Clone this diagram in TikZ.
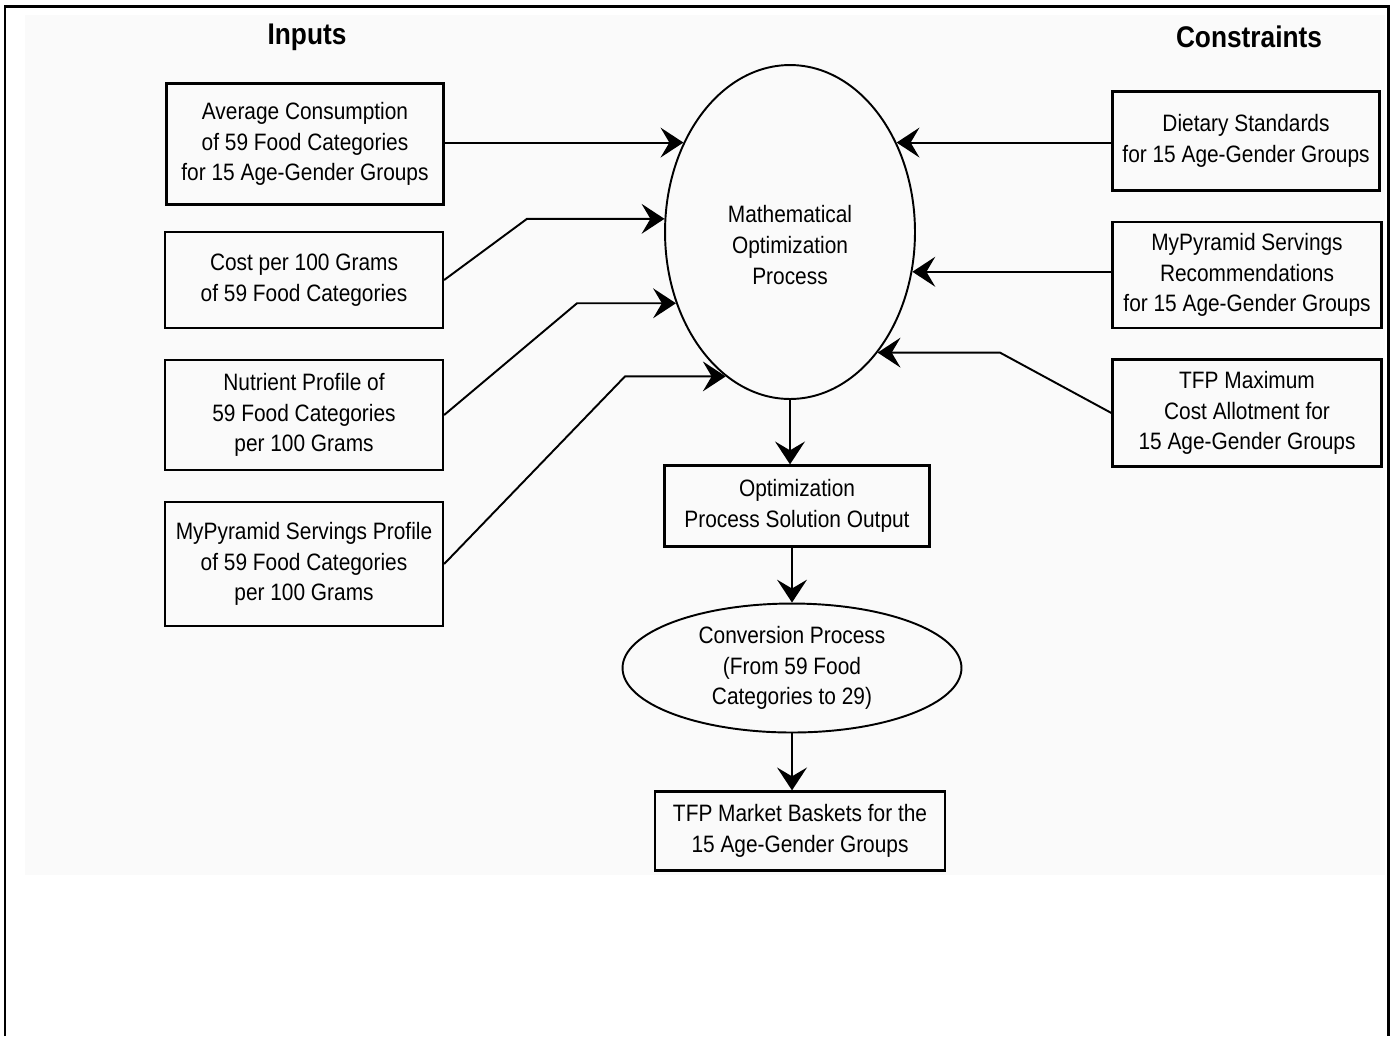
\documentclass[tikz,border=0pt]{standalone}
\usepackage{fontspec}
\setmainfont{Liberation Sans}[FakeStretch=0.88]
\usetikzlibrary{shapes,arrows.meta,positioning,calc}

\begin{document}
\begin{tikzpicture}[x=0.02cm, y=-0.02cm,
    box/.style={draw, line width=1.3pt, align=center, inner sep=2pt, font=\fontsize{13.5}{17.5}\selectfont},
    oval/.style={draw, ellipse, line width=1.1pt, align=center, inner sep=0pt, font=\fontsize{13.5}{17.5}\selectfont},
    head/.style={font=\fontsize{17}{20}\selectfont\bfseries},
    flow/.style={line width=1.1pt, -{Stealth[length=13pt, width=17pt, inset=5pt]}}]
    \useasboundingbox (0,0) rectangle (1391,1036);
    % Frame
    \fill[black!2] (25,15) rectangle (1385,875);
    \draw[line width=1.7pt] (5,1036) -- (5,6) -- (1388,6) -- (1388,1036);

    % Inputs
    \node[head] (inputs) at (307,37) {Inputs};
    \node[box, minimum width=5.54cm, minimum height=2.42cm] (avg) at (305,144) {Average Consumption\\of 59 Food Categories\\for 15 Age-Gender Groups};
    \node[box, minimum width=5.56cm, minimum height=1.92cm] (cost) at (304,280) {Cost per 100 Grams\\of 59 Food Categories};
    \node[box, minimum width=5.56cm, minimum height=2.2cm] (nutr) at (304,415) {Nutrient Profile of\\59 Food Categories\\per 100 Grams};
    \node[box, minimum width=5.56cm, minimum height=2.48cm] (serv) at (304,564) {MyPyramid Servings Profile\\of 59 Food Categories\\per 100 Grams};

    % Constraints
    \node[head] (constr) at (1249,37) {Constraints};
    \node[box, minimum width=5.34cm, minimum height=1.98cm] (diet) at (1246,141) {Dietary Standards\\for 15 Age-Gender Groups};
    \node[box, minimum width=5.38cm, minimum height=2.12cm] (recs) at (1247,275) {MyPyramid Servings\\Recommendations\\for 15 Age-Gender Groups};
    \node[box, minimum width=5.38cm, minimum height=2.14cm] (tfp) at (1247,413) {TFP Maximum\\Cost Allotment for\\15 Age-Gender Groups};

    % Process chain
    \node[oval, minimum width=5cm, minimum height=6.68cm,
          label={[name=mathtext, align=center, yshift=-0.26cm, font=\fontsize{13.5}{17.5}\selectfont]center:Mathematical\\Optimization\\Process}] (math) at (790,232) {};
    \node[box, minimum width=5.3cm, minimum height=1.62cm] (out) at (797,506) {Optimization\\Process Solution Output};
    \node[oval, minimum width=6.78cm, minimum height=2.58cm] (conv) at (792,668) {Conversion Process\\(From 59 Food\\Categories to 29)};
    \node[box, minimum width=5.8cm, minimum height=1.58cm] (bask) at (800,831) {TFP Market Baskets for the\\15 Age-Gender Groups};

    % Arrows into the optimization
    \draw[flow] (avg.east |- math.140) -- (math.140);
    \draw[flow] (cost.east) -- (527,0 |- math.174.5) -- (math.174.5);
    \draw[flow] (nutr.east) -- (577,0 |- math.212) -- (math.212);
    \draw[flow] (serv.east) -- (625,0 |- math.246.8) -- (math.246.8);
    \draw[flow] (diet.west |- math.40) -- (math.40);
    \draw[flow] (recs.west |- math.342.7) -- (math.342.7);
    \draw[flow] (tfp.west) -- (1000,0 |- math.306) -- (math.306);

    % Down the chain
    \draw[flow] (math.south) -- (math.south |- out.north);
    \draw[flow] (out.south -| conv.north) -- (conv.north);
    \draw[flow] (conv.south) -- (conv.south |- bask.north);
\end{tikzpicture}
\end{document}
